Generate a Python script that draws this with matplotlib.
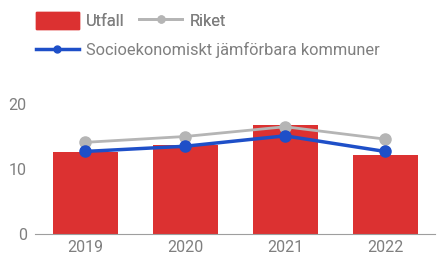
import matplotlib.pyplot as plt
from matplotlib.patches import Patch
from matplotlib.lines import Line2D

plt.rcParams['font.family'] = ['Roboto', 'DejaVu Sans']

years = ['2019', '2020', '2021', '2022']
utfall = [12.6, 13.7, 16.8, 12.2]
riket = [14.1, 15.0, 16.5, 14.6]
jamforbara = [12.7, 13.5, 15.1, 12.7]

red = '#dc3131'
grey = '#b5b5b5'
blue = '#1e4fc8'
text_col = '#7f7f7f'
fs = 11.5
lfs = 11.8

fig = plt.figure(figsize=(4.37, 2.59), dpi=100)
ax = fig.add_axes([35 / 437, 25 / 259, 400 / 437, 130 / 259])

x = range(len(years))
ax.bar(x, utfall, width=0.65, color=red, zorder=1)
ax.plot(x, riket, color=grey, lw=2, marker='o', ms=8, zorder=2)
ax.plot(x, jamforbara, color=blue, lw=2.5, marker='o', ms=8, zorder=3)

ax.set_xlim(-0.5, 3.5)
ax.set_ylim(0, 20)
ax.set_yticks([0, 10, 20])
ax.set_xticks(list(x))
ax.set_xticklabels(years)
for s in ['top', 'right', 'left']:
    ax.spines[s].set_visible(False)
ax.spines['bottom'].set_color('#9e9e9e')
ax.tick_params(length=0, labelsize=fs, labelcolor=text_col, pad=4)
ax.tick_params(axis='y', pad=6)

# legend, two rows
leg1 = fig.legend(
    handles=[Patch(color=red, label='Utfall'),
             Line2D([], [], color=grey, lw=2, marker='o', ms=5, label='Riket')],
    loc='upper left', bbox_to_anchor=(36 / 437, 1 - 12 / 259), ncol=2,
    frameon=False, borderpad=0, borderaxespad=0, fontsize=lfs,
    labelcolor=text_col, handlelength=2.6, handleheight=1.25,
    handletextpad=0.45, columnspacing=0.9)
fig.add_artist(leg1)
fig.legend(
    handles=[Line2D([], [], color=blue, lw=2.5, marker='o', ms=5,
                    label='Socioekonomiskt jämförbara kommuner')],
    loc='upper left', bbox_to_anchor=(36 / 437, 1 - 42 / 259), frameon=False,
    borderpad=0, borderaxespad=0, fontsize=lfs, labelcolor=text_col,
    handlelength=2.6, handletextpad=0.45)

fig.savefig('out.png', dpi=100)
